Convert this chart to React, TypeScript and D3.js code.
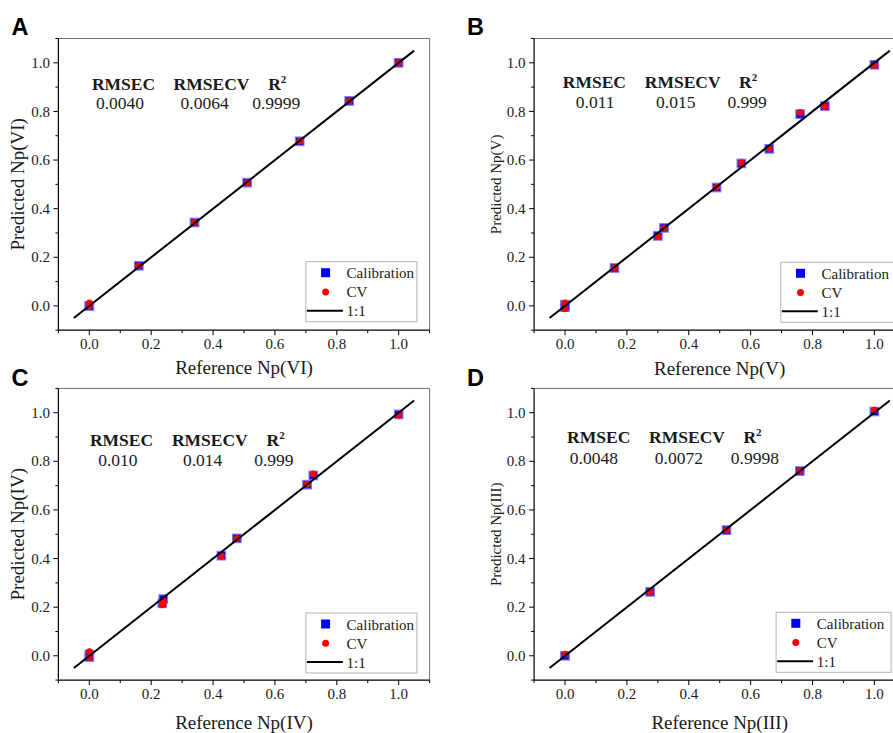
import React from "react";
import * as d3 from "d3";

// ---------- data ----------
const refA = [0, 0, 0.16, 0.34, 0.51, 0.68, 0.84, 1.0];
const calA = [0.0, 0.0, 0.165, 0.343, 0.507, 0.677, 0.843, 1.0];
const cvA = [0.012, 0.0, 0.165, 0.343, 0.507, 0.677, 0.843, 1.0];

const refB = [0, 0, 0.16, 0.3, 0.32, 0.49, 0.57, 0.66, 0.76, 0.84, 1.0];
const calB = [0.005, -0.005, 0.156, 0.288, 0.321, 0.487, 0.586, 0.646, 0.789, 0.822, 0.992];
const cvB = [0.012, -0.012, 0.157, 0.285, 0.32, 0.488, 0.588, 0.647, 0.796, 0.82, 0.99];

const refC = [0, 0, 0.236, 0.239, 0.427, 0.477, 0.704, 0.724, 1.0];
const calC = [0.005, -0.005, 0.216, 0.233, 0.412, 0.483, 0.704, 0.742, 0.993];
const cvC = [0.017, -0.007, 0.21, 0.225, 0.41, 0.483, 0.706, 0.748, 0.99];

const refD = [0, 0.275, 0.522, 0.759, 1.0];
const calD = [0.0, 0.263, 0.517, 0.76, 1.005];
const cvD = [0.006, 0.263, 0.517, 0.76, 1.01];

const statsA = ["0.0040", "0.0064", "0.9999"];
const statsB = ["0.011", "0.015", "0.999"];
const statsC = ["0.010", "0.014", "0.999"];
const statsD = ["0.0048", "0.0072", "0.9998"];

const panelLetters = ["A", "B", "C", "D"];
const xTitles = ["Reference Np(VI)", "Reference Np(V)", "Reference Np(IV)", "Reference Np(III)"];
const yTitles = ["Predicted Np(VI)", "Predicted Np(V)", "Predicted Np(IV)", "Predicted Np(III)"];

const majorTicks = [0, 0.2, 0.4, 0.6, 0.8, 1.0];
const minorTicks = [-0.1, 0.1, 0.3, 0.5, 0.7, 0.9, 1.1];
const axisDomain = [-0.1, 1.1];
const lineEnds = [-0.05, 1.05];
const legendLabels = ["Calibration", "CV", "1:1"];

// ---------- layout ----------
const W = 893;
const H = 733;
const PW = 371.2;
const PH = 291.7;
const SERIF = "'Liberation Serif', 'Times New Roman', serif";
const SANS = "'Liberation Sans', Arial, sans-serif";

const panels = [
  {
    ref: refA, cal: calA, cv: cvA, stats: statsA,
    left: 58.4, top: 38.5, yTitleX: 24.3, yTitleSize: 19, xTitleY: 374,
    labelX: 11.5, labelY: 35,
    hx: [33.5, 115.2, 209.8], hy: 51.5, vx: [37.5, 122.2, 193.8], vy: 70.8,
    legDx: 247.5, legDy: 223.2, legW: 111,
  },
  {
    ref: refB, cal: calB, cv: cvB, stats: statsB,
    left: 534.1, top: 38.5, yTitleX: 501, yTitleSize: 15, xTitleY: 375,
    labelX: 467, labelY: 35,
    hx: [28.7, 110.7, 205], hy: 49.8, vx: [41.7, 122, 193.3], vy: 69.8,
    legDx: 246.7, legDy: 223.8, legW: 115,
  },
  {
    ref: refC, cal: calC, cv: cvC, stats: statsC,
    left: 58.4, top: 388.4, yTitleX: 24.3, yTitleSize: 19, xTitleY: 728.5,
    labelX: 11.5, labelY: 385.5,
    hx: [31.5, 113.5, 208.2], hy: 57.2, vx: [39.8, 124.5, 195.8], vy: 77.2,
    legDx: 247.5, legDy: 224.6, legW: 111,
  },
  {
    ref: refD, cal: calD, cv: cvD, stats: statsD,
    left: 534.1, top: 388.4, yTitleX: 501, yTitleSize: 15, xTitleY: 729,
    labelX: 467, labelY: 385.5,
    hx: [33, 115, 209.3], hy: 54.8, vx: [35.7, 120.7, 196.7], vy: 75.8,
    legDx: 242, legDy: 223.9, legW: 115,
  },
];

const fmt = d3.format(".1f");

function Panel({ p, idx }: { p: any; idx: number }) {
  const x = d3.scaleLinear().domain(axisDomain).range([p.left, p.left + PW]);
  const y = d3.scaleLinear().domain(axisDomain).range([p.top + PH, p.top]);
  const x0 = p.left, x1 = p.left + PW, y0 = p.top + PH, y1 = p.top;
  const line = d3.line<number>().x((d) => x(d)).y((d) => y(d));
  const bx = p.left + p.legDx, by = p.top + p.legDy;
  const sq = 8.5;
  const statNames = ["RMSEC", "RMSECV"];

  return (
    <g>
      <text x={p.labelX} y={p.labelY} fontFamily={SANS} fontWeight="bold" fontSize={23.5} fill="#000">
        {panelLetters[idx]}
      </text>

      <line x1={x0} x2={x1} y1={y1} y2={y1} stroke="#6e6e6e" strokeWidth={1} />
      <line x1={x1} x2={x1} y1={y1} y2={y0} stroke="#6e6e6e" strokeWidth={1} />

      {majorTicks.map((t) => (
        <g key={"mx" + t}>
          <line x1={x(t)} x2={x(t)} y1={y0} y2={y0 + 5} stroke="#000" strokeWidth={1} />
          <text x={x(t)} y={y0 + 19} textAnchor="middle" fontFamily={SERIF} fontSize={15} fill="#1a1a1a">
            {fmt(t)}
          </text>
          <line x1={x0} x2={x0 - 5} y1={y(t)} y2={y(t)} stroke="#000" strokeWidth={1} />
          <text x={x0 - 8.5} y={y(t)} dy="0.34em" textAnchor="end" fontFamily={SERIF} fontSize={15} fill="#1a1a1a">
            {fmt(t)}
          </text>
        </g>
      ))}
      {minorTicks.map((t) => (
        <g key={"mn" + t}>
          <line x1={x(t)} x2={x(t)} y1={y0} y2={y0 + 3} stroke="#000" strokeWidth={1} />
          <line x1={x0} x2={x0 - 3} y1={y(t)} y2={y(t)} stroke="#000" strokeWidth={1} />
        </g>
      ))}

      <line x1={x0} x2={x0} y1={y1} y2={y0} stroke="#000" strokeWidth={1.2} />
      <line x1={x0} x2={x1} y1={y0} y2={y0} stroke="#000" strokeWidth={1.2} />

      <text x={(x0 + x1) / 2} y={p.xTitleY} textAnchor="middle" fontFamily={SERIF} fontSize={19} fill="#1a1a1a">
        {xTitles[idx]}
      </text>
      <text
        transform={`translate(${p.yTitleX},${(y0 + y1) / 2}) rotate(-90)`}
        textAnchor="middle"
        fontFamily={SERIF}
        fontSize={p.yTitleSize}
        fill="#1a1a1a"
      >
        {yTitles[idx]}
      </text>

      {p.ref.map((r: number, i: number) => (
        <rect
          key={"c" + i}
          x={x(r) - sq / 2}
          y={y(p.cal[i]) - sq / 2}
          width={sq}
          height={sq}
          fill="#0000ff"
          stroke="#7a7aff"
          strokeWidth={1.2}
        />
      ))}
      {p.ref.map((r: number, i: number) => (
        <circle key={"v" + i} cx={x(r)} cy={y(p.cv[i])} r={3.5} fill="#ff0000" />
      ))}

      <path d={line(lineEnds) || ""} stroke="#000" strokeWidth={2} fill="none" />

      {statNames.map((s, i) => (
        <text key={s} x={p.left + p.hx[i]} y={p.top + p.hy} fontFamily={SERIF} fontWeight="bold" fontSize={17.5} fill="#1a1a1a">
          {s}
        </text>
      ))}
      <text x={p.left + p.hx[2]} y={p.top + p.hy} fontFamily={SERIF} fontWeight="bold" fontSize={17.5} fill="#1a1a1a">
        R
        <tspan fontSize={11} dy={-7}>2</tspan>
      </text>
      {p.stats.map((s: string, i: number) => (
        <text key={"s" + i} x={p.left + p.vx[i]} y={p.top + p.vy} fontFamily={SERIF} fontSize={17.5} fill="#1a1a1a">
          {s}
        </text>
      ))}

      <rect x={bx} y={by} width={p.legW} height={60} fill="#fff" stroke="#b4b4b4" strokeWidth={1} />
      <rect x={bx + 19.7 - 4.5} y={by + 11 - 4.5} width={9} height={9} fill="#0000ff" />
      <text x={bx + 40.7} y={by + 16.6} fontFamily={SERIF} fontSize={15} fill="#1a1a1a">{legendLabels[0]}</text>
      <circle cx={bx + 19.7} cy={by + 30.3} r={3.5} fill="#ff0000" />
      <text x={bx + 40.7} y={by + 35.5} fontFamily={SERIF} fontSize={15} fill="#1a1a1a">{legendLabels[1]}</text>
      <line x1={bx + 1} x2={bx + 37} y1={by + 49} y2={by + 49} stroke="#000" strokeWidth={2} />
      <text x={bx + 40.7} y={by + 54.5} fontFamily={SERIF} fontSize={15} fill="#1a1a1a">{legendLabels[2]}</text>
    </g>
  );
}

export default function App() {
  return (
    <svg
      width={W}
      height={H}
      viewBox={`0 0 ${W} ${H}`}
      style={{ position: "absolute", left: 0, top: 0, display: "block", background: "#fff" }}
    >
      <rect x={0} y={0} width={W} height={H} fill="#fff" />
      {panels.map((p, i) => (
        <Panel key={i} p={p} idx={i} />
      ))}
    </svg>
  );
}
